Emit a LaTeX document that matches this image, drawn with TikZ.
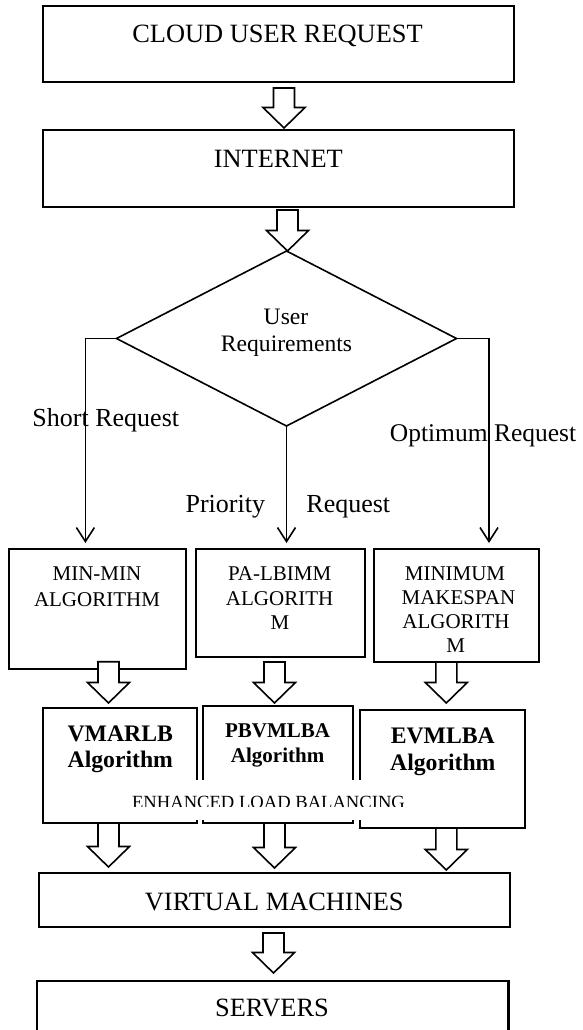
\documentclass[tikz,border=0pt]{standalone}
\usepackage{fontspec}
\setmainfont{Liberation Serif}
\usetikzlibrary{shapes.geometric,arrows.meta,calc}

\tikzset{
  box/.style={draw, rectangle, line width=2.2pt, inner sep=0pt, outer sep=0pt},
  algbox/.style={draw, rectangle, line width=2pt, inner sep=0pt, outer sep=0pt},
  barrow/.style={draw, fill=white, line width=1.6pt, line join=miter},
  larrow/.style={draw, line width=1.6pt, -{Straight Barb[length=14pt,width=18pt]}},
  lbl/.style={inner sep=0pt, anchor=base},
  big/.style={lbl, font=\fontsize{26.4}{30}\selectfont},
  side/.style={lbl, font=\fontsize{26}{30}\selectfont},
  dtext/.style={lbl, font=\fontsize{23.6}{27}\selectfont},
  alg/.style={lbl, font=\fontsize{21}{24}\selectfont},
  boldbig/.style={lbl, font=\fontsize{23.7}{27}\selectfont\bfseries},
  boldsmall/.style={lbl, font=\fontsize{21}{24}\selectfont\bfseries},
  small/.style={lbl, font=\fontsize{18.6}{22}\selectfont},
}

% hollow block arrow: #1 start anchor (its x is the arrow axis), #2 target anchor,
% #3 gap below the start, #4 gap left above the target
\newcommand\blockarrow[4]{%
  \path[barrow] let \p1=(#1), \p2=(#2),
      \n1={\y1-(#3pt)}, \n2={\y2+#4pt}, \n3={\y2+#4pt+20.5pt} in
    ({\x1-10.5pt},{\n1}) -- ({\x1-10.5pt},{\n3}) -- ({\x1-21pt},{\n3})
    -- ({\x1},{\n2}) -- ({\x1+21pt},{\n3}) -- ({\x1+10.5pt},{\n3})
    -- ({\x1+10.5pt},{\n1}) -- cycle;}

\begin{document}
\begin{tikzpicture}[x=1pt,y=-1pt]
\clip (0,0) rectangle (582,1030);

% top stages
\node[box, minimum width=471.3pt, minimum height=76pt] (b1) at (278.35,43.7) {};
\node[big] (t1) at (277.5,43) {CLOUD USER REQUEST};
\node[box, minimum width=471.3pt, minimum height=77pt] (b2) at (278.35,168.5) {};
\node[big] (t2) at (278.3,167) {INTERNET};

% decision
\node[draw, diamond, line width=1.6pt, inner sep=0pt, outer sep=0pt,
      minimum width=340pt, minimum height=175pt] (dia) at (286.5,338.5) {};
\node[dtext] (u1) at (286,324) {User};
\node[dtext] (u2) at (286.5,351) {Requirements};

% branch labels
\node[side] (ls) at (105.8,426) {Short Request};
\node[side, font=\fontsize{25.5}{30}\selectfont] (lo) at (483,441) {Optimum Request};
\node[side] (lp) at (225.3,512) {Priority};
\node[side] (lr) at (348.3,512) {Request};

% algorithm boxes
\node[algbox, minimum width=176.3pt, minimum height=120pt] (mm) at (97.45,609) {};
\node[alg] at (97,580) {MIN-MIN};
\node[alg] at (97,606) {ALGORITHM};

\node[algbox, minimum width=169pt, minimum height=108pt] (pa) at (280.5,603) {};
\node[alg] at (279.7,580) {PA-LBIMM};
\node[alg] at (279.6,605) {ALGORITH};
\node[alg] at (280,629.5) {M};

\node[algbox, minimum width=165pt, minimum height=113pt] (mk) at (456.5,605.5) {};
\node[alg] at (455,580) {MINIMUM};
\node[alg] at (458.4,604) {MAKESPAN};
\node[alg] at (456,628) {ALGORITH};
\node[alg] at (455.6,652) {M};

% branch connectors
\coordinate (lk) at (85.4,338.5);
\coordinate (rk) at (489,338.5);
\draw[larrow] (dia.west) -- (lk) -- ([yshift=6pt]mm.north -| lk);
\draw[larrow] (dia.south) -- ([yshift=6pt]pa.north -| dia.south);
\draw[larrow] (dia.east) -- (rk) -- ([yshift=6pt]mk.north -| rk);

% load balancing algorithms
\node[algbox, minimum width=153.3pt, minimum height=115.3pt] (vm) at (120.05,765.35) {};
\node[boldbig] at (120.3,741) {VMARLB};
\node[boldbig] at (120.3,767) {Algorithm};

\node[algbox, minimum width=149.2pt, minimum height=117.3pt] (pb) at (278,764.35) {};
\node[boldsmall] at (277.6,737.7) {PBVMLBA};
\node[boldsmall] at (277.6,762) {Algorithm};

\node[algbox, minimum width=165pt, minimum height=118pt] (ev) at (442.5,769) {};
\node[boldbig] at (442.8,743.3) {EVMLBA};
\node[boldbig] at (442.8,770) {Algorithm};

% caption band across the three algorithm boxes; its text is cut off at the bottom
\node[fill=white, inner sep=0pt, minimum width=369.5pt, minimum height=40pt] (elb) at (230.25,800) {};
\begin{scope}
  \clip (elb.north west) rectangle ([yshift=13.4pt]elb.south east);
  \node[small] (elbt) at (268.5,808.5) {ENHANCED LOAD BALANCING};
\end{scope}

% lower stages
\node[box, minimum width=471pt, minimum height=54pt] (virt) at (274.5,900) {};
\node[big] (t3) at (274.3,910) {VIRTUAL MACHINES};
\node[box, minimum width=471.5pt, minimum height=59.3pt] (srv) at (272.75,1010.35) {};
\node[big] (t4) at (272,1016.7) {SERVERS};

% block arrows
\blockarrow{[xshift=5.65pt]b1.south}{b2.north}{6.3}{2}
\blockarrow{[xshift=9.15pt]b2.south}{dia.north}{3}{0}
\blockarrow{[xshift=11.05pt]mm.south}{vm.north}{-7.3}{4.7}
\blockarrow{[xshift=-6pt]pa.south}{pb.north}{5}{2.7}
\blockarrow{[xshift=-10.2pt]mk.south}{ev.north}{0}{7}
\blockarrow{[xshift=-11.55pt]vm.south}{virt.north}{0}{6}
\blockarrow{[xshift=-3.5pt]pb.south}{virt.north}{0}{5}
\blockarrow{[xshift=3.8pt]ev.south}{virt.north}{0}{3}
\blockarrow{[xshift=-1pt]virt.south}{srv.north}{6}{7.7}
\end{tikzpicture}
\end{document}
